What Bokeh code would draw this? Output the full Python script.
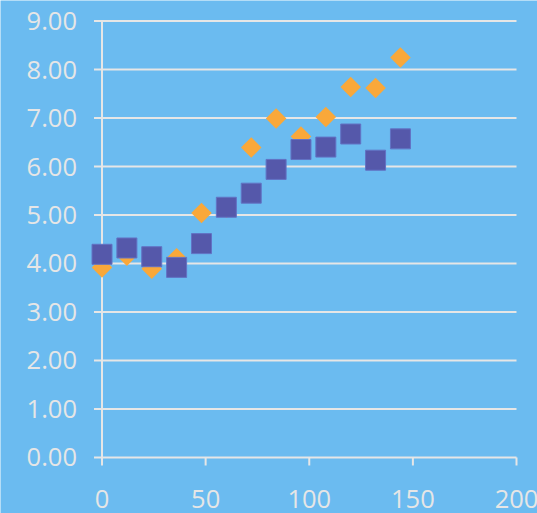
import math
from bokeh.plotting import figure
from bokeh.models import Range1d, ColumnDataSource
from bokeh.core.properties import value
from bokeh.embed import file_html
from bokeh.resources import INLINE

# Sample times and the two measured series
x_vals = [0, 12, 24, 36, 48, 60, 72, 84, 96, 108, 120, 132, 144]
series_a = [3.92, 4.16, 3.89, 4.11, 5.04, 5.15, 6.39, 6.99, 6.62, 7.02, 7.64, 7.62, 8.25]
series_b = [4.19, 4.32, 4.14, 3.92, 4.41, 5.16, 5.45, 5.94, 6.35, 6.40, 6.67, 6.13, 6.57]
x_ticks = [0, 50, 100, 150, 200]
y_ticks = [0, 1, 2, 3, 4, 5, 6, 7, 8, 9]
x_labels = [str(t) for t in x_ticks]
y_labels = ["%.2f" % t for t in y_ticks]

BG = "#6BBBF0"
FG = "#E6E6E6"
FONT = value("Open Sans")
FONT_SIZE = value("25.5px")

# The plotting frame covers the whole canvas; axes are drawn inside it
X_MIN, X_MAX = -48.98, 210.13
Y_MIN, Y_MAX = -1.155, 9.423
TICK_X = 3.86   # y tick stub length, x units
TICK_Y = 0.165  # x tick stub length, y units

p = figure(width=537, height=513, output_backend="svg", toolbar_location=None,
           x_range=Range1d(X_MIN, X_MAX), y_range=Range1d(Y_MIN, Y_MAX),
           min_border=0, x_axis_location=None, y_axis_location=None)
p.background_fill_color = BG
p.border_fill_color = BG
p.outline_line_color = None
p.grid.visible = False

# horizontal grid lines (with their tick stubs) and the vertical axis line
p.segment(x0=[-TICK_X] * len(y_ticks), x1=[x_ticks[-1]] * len(y_ticks), y0=y_ticks, y1=y_ticks,
          line_color=FG, line_width=2)
p.segment(x0=[0], x1=[0], y0=[0], y1=[y_ticks[-1]], line_color=FG, line_width=2)
# x tick stubs below the zero line
p.segment(x0=x_ticks, x1=x_ticks, y0=[0] * len(x_ticks), y1=[-TICK_Y] * len(x_ticks),
          line_color=FG, line_width=2)

# tick labels
p.text(x=[-TICK_X] * len(y_ticks), y=y_ticks, text=y_labels, x_offset=-17,
       text_align="right", text_baseline="middle", text_color=FG,
       text_font=FONT, text_font_size=FONT_SIZE)
p.text(x=x_ticks, y=[0] * len(x_ticks), text=x_labels, y_offset=42,
       text_align="center", text_baseline="alphabetic", text_color=FG,
       text_font=FONT, text_font_size=FONT_SIZE)

src = ColumnDataSource(dict(x=x_vals, a=series_a, b=series_b))

# Orange diamonds (drawn first, squares sit on top)
p.scatter("x", "a", source=src, marker="square", size=14.5, angle=math.pi / 4,
          fill_color="#F9A83A", line_color=None)
# Blue squares
p.scatter("x", "b", source=src, marker="square", size=20,
          fill_color="#5558AA", line_color="#6272C4", line_width=1)

open("out.html", "w").write(file_html(p, INLINE))
